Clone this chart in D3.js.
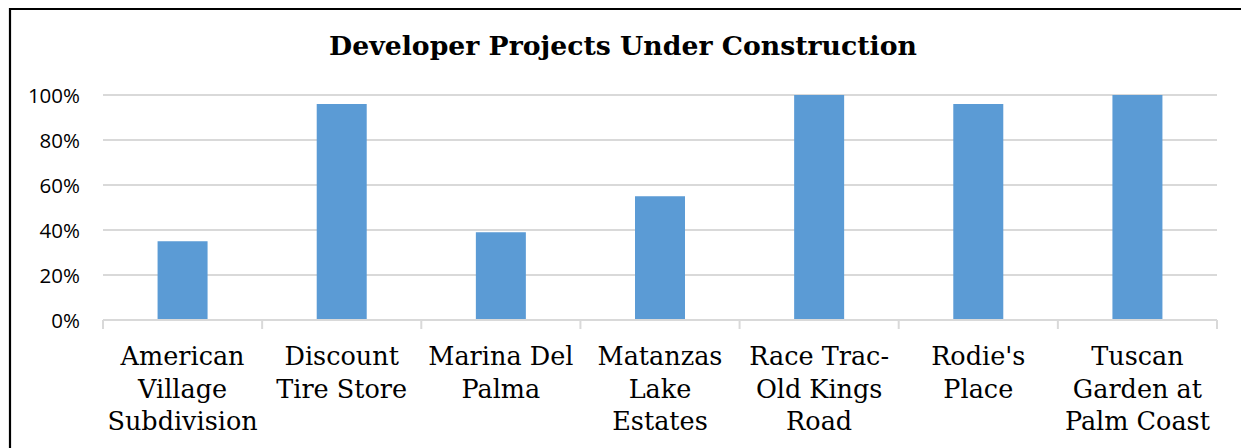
<!DOCTYPE html>
<html><head><meta charset="utf-8">
<script src="https://cdn.jsdelivr.net/npm/d3@7"></script>
<style>html,body{margin:0;padding:0;background:#fff;}svg{display:block;}</style>
</head><body>
<svg id="chart" width="1241" height="448"></svg>
<script>
const title = "Developer Projects Under Construction";
const categories = [
  ["American","Village","Subdivision"],
  ["Discount","Tire Store"],
  ["Marina Del","Palma"],
  ["Matanzas","Lake","Estates"],
  ["Race Trac-","Old Kings","Road"],
  ["Rodie's","Place"],
  ["Tuscan","Garden at","Palm Coast"]
];
const values = [0.35, 0.96, 0.39, 0.55, 1.00, 0.96, 1.00];
const yTicks = [0, 0.2, 0.4, 0.6, 0.8, 1.0];

const svg = d3.select("#chart");
const W = 1241, H = 448;
const m = {left: 103, right: 1217, top: 95, bottom: 320};

svg.append("rect").attr("width", W).attr("height", H).attr("fill", "#fff");
// border (top + left)
svg.append("path").attr("d", `M10,448 L10,9 L1241,9`).attr("fill","none")
  .attr("stroke","#000").attr("stroke-width",2.2);

svg.append("text").attr("x", 623).attr("y", 55).attr("text-anchor","middle")
  .attr("font-family","'DejaVu Serif', serif").attr("font-weight","bold")
  .attr("font-size", 26.7).attr("fill","#000").text(title);

const x = d3.scaleBand().domain(d3.range(categories.length)).range([m.left, m.right]).paddingInner(0).paddingOuter(0);
const y = d3.scaleLinear().domain([0, 1]).range([m.bottom, m.top]);

// grid
svg.append("g").selectAll("line").data(yTicks.filter(d => d > 0)).join("line")
  .attr("x1", m.left).attr("x2", m.right)
  .attr("y1", d => y(d)).attr("y2", d => y(d))
  .attr("stroke", "#d9d9d9").attr("stroke-width", 2);

// y axis labels
const yAxis = d3.axisLeft(y).tickValues(yTicks).tickFormat(d3.format(".0%")).tickSize(0).tickPadding(0);
const gy = svg.append("g").attr("transform", `translate(${m.left - 23},0)`).call(yAxis);
gy.select(".domain").remove();
gy.selectAll("text").attr("font-family","'Open Sans', sans-serif").attr("font-size", 20.5).attr("fill","#000").attr("dy","0.35em");

// bars
const bw = 50;
svg.append("g").selectAll("rect").data(values).join("rect")
  .attr("x", (d,i) => x(i) + x.bandwidth()/2 - bw/2)
  .attr("width", bw)
  .attr("y", d => y(d))
  .attr("height", d => y(0) - y(d))
  .attr("fill", "#5b9bd5");

// x axis line + ticks
svg.append("line").attr("x1", m.left).attr("x2", m.right).attr("y1", y(0)).attr("y2", y(0))
  .attr("stroke","#d9d9d9").attr("stroke-width",2);
const bounds = d3.range(categories.length + 1).map(i => i < categories.length ? x(i) : m.right);
svg.append("g").selectAll("line").data(bounds).join("line")
  .attr("x1", d => d).attr("x2", d => d).attr("y1", y(0)).attr("y2", y(0) + 9)
  .attr("stroke","#d9d9d9").attr("stroke-width",2);

// category labels
const gl = svg.append("g");
categories.forEach((lines, i) => {
  const t = gl.append("text").attr("text-anchor","middle")
    .attr("font-family","'DejaVu Serif', serif").attr("font-size", 25.5).attr("fill","#000");
  lines.forEach((ln, j) => {
    t.append("tspan").attr("x", x(i) + x.bandwidth()/2).attr("y", 365 + j * 32.5).text(ln);
  });
});
</script>
</body></html>
